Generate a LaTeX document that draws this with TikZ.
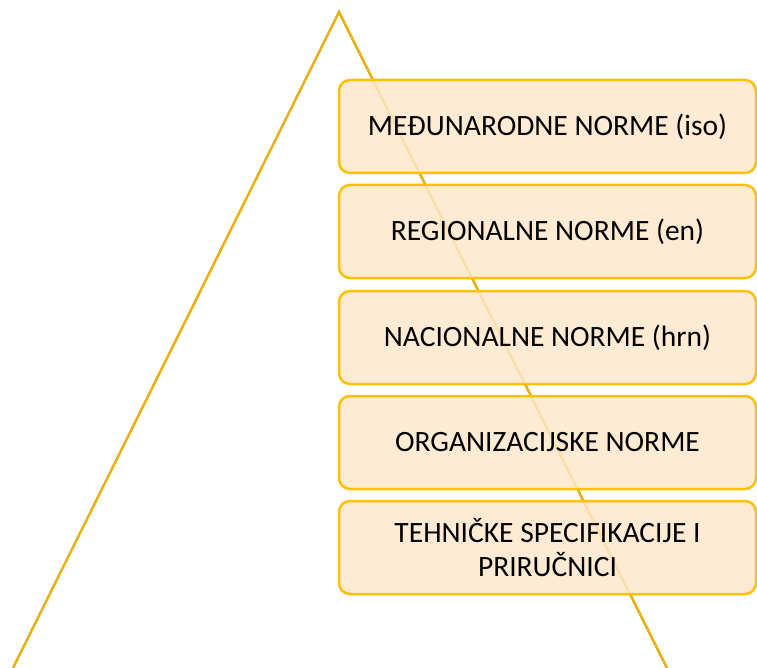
\documentclass[tikz,border=0pt]{standalone}
\usepackage{fontspec}
\setmainfont{Carlito}
\definecolor{tri}{HTML}{E8B010}
\definecolor{bord}{HTML}{FFC000}
\definecolor{boxfill}{HTML}{FFE8CB}
\tikzset{
  normbox/.style={draw=bord, line width=2.5pt, fill=boxfill, fill opacity=0.85, text opacity=1, rounded corners=11pt,
    minimum width=417pt, minimum height=93pt, inner sep=0pt, align=center, font=\fontsize{29.5}{34}\selectfont, text=black}
}
\begin{document}
\begin{tikzpicture}[x=1pt,y=-1pt]
\useasboundingbox (0,0) rectangle (757,668);
\coordinate (apex) at (339,12);
\coordinate (bl) at (13,668);
\coordinate (br) at (667,668);
\draw[tri, line width=2.5pt, line join=miter] (bl) -- (apex) -- (br);
\node[normbox] (b1) at (547.5,126.5) {MEĐUNARODNE NORME (iso)};
\node[normbox] (b2) at (547.5,231.5) {REGIONALNE NORME (en)};
\node[normbox] (b3) at (547.5,337.5) {NACIONALNE NORME (hrn)};
\node[normbox] (b4) at (547.5,442.5) {ORGANIZACIJSKE NORME};
\node[normbox] (b5) at (547.5,547.5) {TEHNIČKE SPECIFIKACIJE I\\PRIRUČNICI};
\end{tikzpicture}
\end{document}
